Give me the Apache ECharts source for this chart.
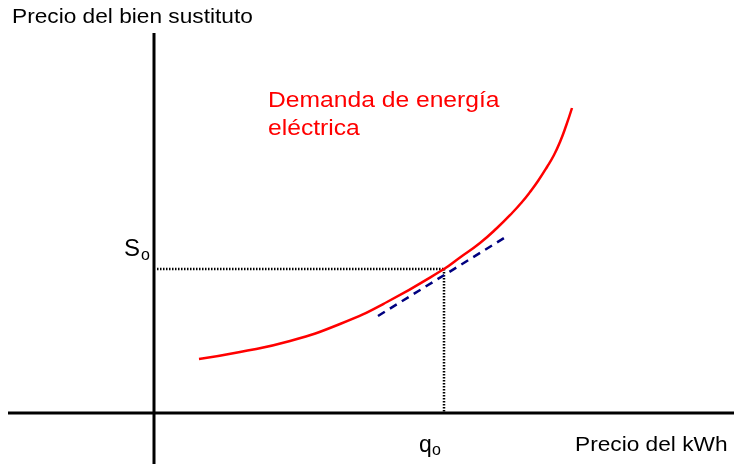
<!DOCTYPE html>
<html>
<head>
<meta charset="utf-8">
<script src="https://cdn.jsdelivr.net/npm/echarts@6/dist/echarts.min.js"></script>
<style>
  html, body { margin: 0; padding: 0; background: #fff; }
  #chart { width: 734px; height: 465px; }
</style>
</head>
<body>
<div id="chart"></div>
<script>
// coordinates: origin where the two axes cross
const demandX = [45, 86, 136, 186, 233, 290, 306, 326, 343, 359, 368, 376, 384, 393, 400, 406, 412, 418];
const demandY = [54, 61, 72, 89, 111, 144, 155.5, 170, 185, 201, 211, 221, 232, 246, 258, 271, 287, 305];

const tangentX = [224, 355];
const tangentY = [97, 178];

const q0 = 290;
const s0 = 144;

const axisXRange = [-146, 580];
const axisYRange = [-51, 380];

const labelY = 'Precio del bien sustituto';
const labelX = 'Precio del kWh';
const labelCurve = ['Demanda de energía', 'eléctrica'];

const zip = (xs, ys) => xs.map((x, i) => [x, ys[i]]);

const chart = echarts.init(document.getElementById('chart'));

const font = 'Liberation Sans, Arial, sans-serif';

function text(str, left, top, size, color, sx) {
  return {
    type: 'text',
    left: left,
    top: top,
    scaleX: sx || 1,
    style: { text: str, fontFamily: font, fontSize: size, fill: color }
  };
}

chart.setOption({
  animation: false,
  grid: { left: 0, right: 0, top: 0, bottom: 0 },
  xAxis: { type: 'value', min: -154, max: 580, show: false },
  yAxis: { type: 'value', min: -52, max: 413, show: false },
  series: [
    {
      type: 'line',
      data: [[axisXRange[0], 0], [axisXRange[1], 0]],
      symbol: 'none',
      lineStyle: { color: '#000', width: 3 }
    },
    {
      type: 'line',
      data: [[0, axisYRange[0]], [0, axisYRange[1]]],
      symbol: 'none',
      lineStyle: { color: '#000', width: 3 }
    },
    {
      type: 'line',
      data: [[3, s0], [q0, s0]],
      symbol: 'none',
      lineStyle: { color: '#000', width: 2.5, type: [1.5, 1.5] }
    },
    {
      type: 'line',
      data: [[q0, s0], [q0, 0]],
      symbol: 'none',
      lineStyle: { color: '#000', width: 2.5, type: [1.5, 1.5] }
    },
    {
      type: 'line',
      data: zip(tangentX, tangentY),
      symbol: 'none',
      lineStyle: { color: '#000080', width: 2.5, type: [8, 6] }
    },
    {
      type: 'line',
      data: zip(demandX, demandY),
      smooth: true,
      symbol: 'none',
      lineStyle: { color: '#ff0000', width: 2.5 }
    }
  ],
  graphic: [
    text(labelY, 12, 7, 21, '#000', 1.08),
    text(labelX, 575, 435, 21, '#000', 1.08),
    text(labelCurve[0], 268, 90, 22, '#ff0000', 1.12),
    text(labelCurve[1], 268, 118, 22, '#ff0000', 1.12),
    text('S', 124, 237, 24, '#000', 1.0),
    text('o', 141, 248, 16, '#000', 1.0),
    text('q', 419, 434, 23, '#000', 1.0),
    text('o', 432, 443, 16, '#000', 1.0)
  ]
});
</script>
</body>
</html>
